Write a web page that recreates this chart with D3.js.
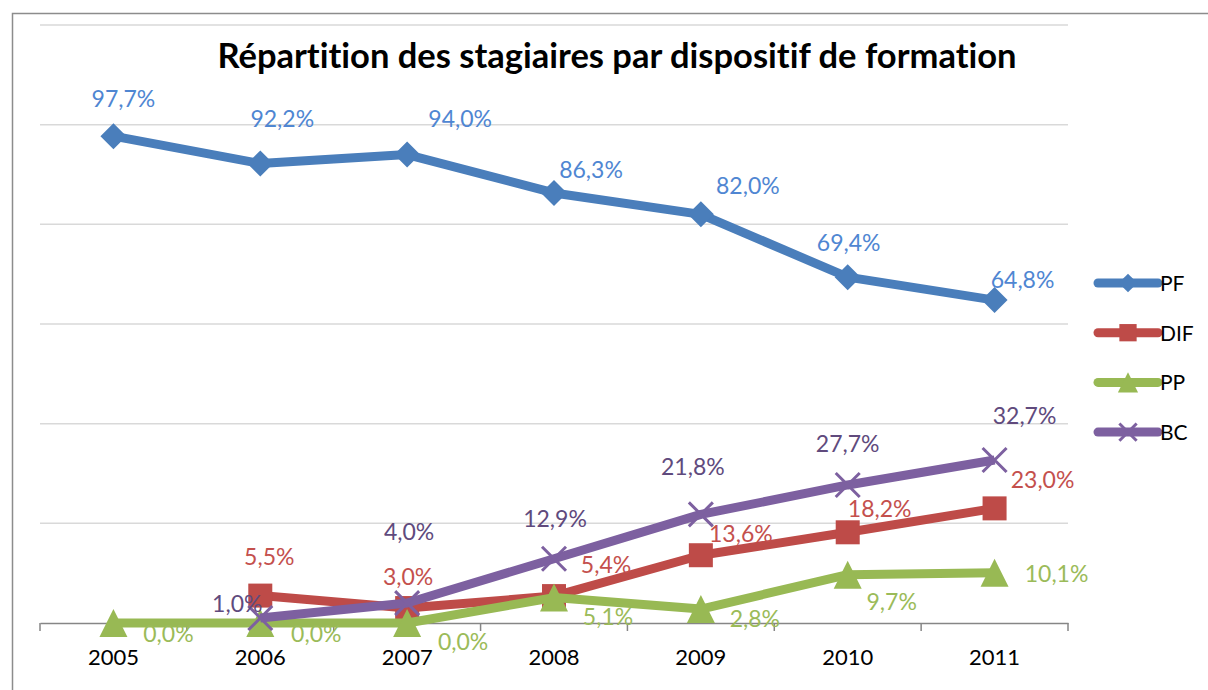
<!DOCTYPE html>
<html>
<head>
<meta charset="utf-8">
<script src="https://cdn.jsdelivr.net/npm/d3@7"></script>
<style>
  body { margin: 0; background: #fff; }
  text { font-family: Lato, "Open Sans", sans-serif; font-variant-ligatures: none; }
</style>
</head>
<body>
<div id="vis"></div>
<script>
// data
var years = ['2005', '2006', '2007', '2008', '2009', '2010', '2011'];
var pf  = [97.7, 92.2, 94.0, 86.3, 82.0, 69.4, 64.8];
var dif = [null, 5.5, 3.0, 5.4, 13.6, 18.2, 23.0];
var pp  = [0.0, 0.0, 0.0, 5.1, 2.8, 9.7, 10.1];
var bc  = [null, 1.0, 4.0, 12.9, 21.8, 27.7, 32.7];
var yTicks = [0, 20, 40, 60, 80, 100, 120];

// hand placed label offsets (dx, dy from the point), like in the original sheet
var pfLab  = [[10, -29], [22, -37], [53, -28], [37, -15], [47, -20], [1, -26], [28, -12]];
var difLab = [null, [9, -31], [1, -23], [52, -23], [40, -13], [32, -15], [48, -20]];
var ppLab  = [[55, 19], [56, 19], [56, 27], [54, 27], [54, 18], [44, 35], [62, 9]];
var bcLab  = [null, [-23, -6], [2, -63], [1, -32], [-8, -39], [0, -33], [30, -36]];

var series = [
  { name: 'PF',  values: pf,  color: '#4A7EBB', text: '#4F86D2', marker: 'diamond',  lab: pfLab },
  { name: 'DIF', values: dif, color: '#BE4B48', text: '#C4504D', marker: 'square',   lab: difLab },
  { name: 'PP',  values: pp,  color: '#98B954', text: '#9BBB59', marker: 'triangle', lab: ppLab },
  { name: 'BC',  values: bc,  color: '#7D60A0', text: '#604A7D', marker: 'cross',    lab: bcLab }
];

var width = 1208, height = 690;
var svg = d3.select('#vis').append('svg')
  .attr('width', width)
  .attr('height', height);

// outer frame of the pasted chart
svg.append('rect')
  .attr('x', 12.5).attr('y', 13.5)
  .attr('width', 1300).attr('height', 800)
  .attr('fill', 'none')
  .attr('stroke', '#8c8c8c')
  .attr('stroke-width', 1.5);

var x = d3.scaleBand().domain(years).range([40, 1068]);
var y = d3.scaleLinear().domain([0, 120]).range([623, 25]);
var cx = function (i) { return x(years[i]) + x.bandwidth() / 2; };

var g = svg.append('g');

// gridlines
g.selectAll('.grid')
  .data(yTicks.slice(1))
  .enter().append('line')
  .attr('class', 'grid')
  .attr('x1', 40).attr('x2', 1068)
  .attr('y1', function (d) { return y(d); })
  .attr('y2', function (d) { return y(d); })
  .attr('stroke', '#d9d9d9')
  .attr('stroke-width', 1.5);

// x axis
var xAxis = g.append('g')
  .attr('transform', 'translate(0,' + y(0) + ')')
  .call(d3.axisBottom(x).tickSize(0).tickPadding(26));
xAxis.select('.domain').attr('stroke', '#868686').attr('stroke-width', 1.5);
xAxis.selectAll('text')
  .attr('font-size', 22)
  .attr('fill', '#000')
  .style('font-family', 'Lato, sans-serif');

// tick marks at category edges
var edges = years.map(function (d) { return x(d); }).concat([x.range()[1]]);
xAxis.selectAll('.edge')
  .data(edges)
  .enter().append('line')
  .attr('class', 'edge')
  .attr('x1', function (d) { return d; })
  .attr('x2', function (d) { return d; })
  .attr('y1', 0).attr('y2', 8)
  .attr('stroke', '#868686')
  .attr('stroke-width', 1.5);

// title
svg.append('text')
  .attr('x', 617).attr('y', 68)
  .attr('text-anchor', 'middle')
  .attr('font-size', 34.5)
  .attr('font-weight', 'bold')
  .attr('fill', '#000')
  .text('Répartition des stagiaires par dispositif de formation');

function drawMarker(sel, type, color, k) {
  if (type === 'diamond') {
    var s = 13 * k;
    sel.append('path')
      .attr('d', 'M0,' + (-s) + 'L' + s + ',0L0,' + s + 'L' + (-s) + ',0Z')
      .attr('fill', color);
  } else if (type === 'square') {
    var h = 12 * k;
    sel.append('rect')
      .attr('x', -h).attr('y', -h)
      .attr('width', 2 * h).attr('height', 2 * h)
      .attr('fill', color);
  } else if (type === 'triangle') {
    var t = 14 * k;
    sel.append('path')
      .attr('d', 'M0,' + (-t) + 'L' + t + ',' + t + 'L' + (-t) + ',' + t + 'Z')
      .attr('fill', color);
  } else {
    var c = 12 * k;
    sel.append('path')
      .attr('d', 'M' + (-c) + ',' + (-c) + 'L' + c + ',' + c + 'M' + c + ',' + (-c) + 'L' + (-c) + ',' + c)
      .attr('stroke', color)
      .attr('stroke-width', 3)
      .attr('fill', 'none');
  }
}

var line = d3.line()
  .defined(function (d) { return d !== null; })
  .x(function (d, i) { return cx(i); })
  .y(function (d) { return y(d); });

series.forEach(function (s) {
  var sg = g.append('g');
  sg.append('path')
    .datum(s.values)
    .attr('d', line)
    .attr('fill', 'none')
    .attr('stroke', s.color)
    .attr('stroke-width', 9)
    .attr('stroke-linejoin', 'round');

  s.values.forEach(function (v, i) {
    if (v === null) return;
    var m = sg.append('g')
      .attr('transform', 'translate(' + cx(i) + ',' + y(v) + ')');
    drawMarker(m, s.marker, s.color, 1);
  });
});

// data labels on top
series.forEach(function (s) {
  s.values.forEach(function (v, i) {
    if (v === null) return;
    g.append('text')
      .attr('x', cx(i) + s.lab[i][0])
      .attr('y', y(v) + s.lab[i][1])
      .attr('text-anchor', 'middle')
      .attr('font-size', 23)
      .attr('fill', s.text)
      .text(v.toFixed(1).replace('.', ',') + '%');
  });
});

// legend
var legend = svg.selectAll('.legend')
  .data(series)
  .enter().append('g')
  .attr('class', 'legend')
  .attr('transform', function (d, i) { return 'translate(1098,' + (283 + i * 49.7) + ')'; });

legend.append('line')
  .attr('x1', 0).attr('x2', 60)
  .attr('stroke', function (d) { return d.color; })
  .attr('stroke-width', 9)
  .attr('stroke-linecap', 'round');

legend.each(function (d) {
  var m = d3.select(this).append('g').attr('transform', 'translate(30,0)');
  drawMarker(m, d.marker, d.color, 0.72);
});

legend.append('text')
  .attr('x', 62).attr('y', 8)
  .attr('font-size', 21)
  .attr('fill', '#000')
  .text(function (d) { return d.name; });
</script>
</body>
</html>
